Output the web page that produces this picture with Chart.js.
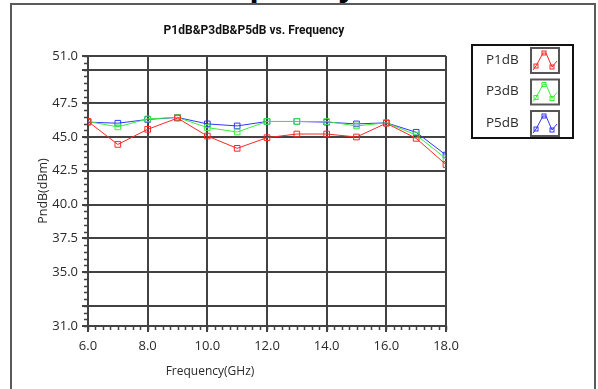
<!DOCTYPE html>
<html>
<head>
<meta charset="utf-8">
<script src="https://cdn.jsdelivr.net/npm/chart.js@4.4.0/dist/chart.umd.min.js"></script>
<style>
  html, body { margin: 0; padding: 0; background: #fff; overflow: hidden; }
  #wrap { position: relative; width: 598px; height: 389px; overflow: hidden; }
  #heading {
    position: absolute; right: 241px; top: -35px;
    font: bold 34px "Liberation Sans", Arial, sans-serif; color: #000; white-space: nowrap;
  }
  #frame {
    position: absolute; left: 10px; top: 3px; width: 582px; height: 420px;
    border: 2px solid #5a5a5a;
  }
  #chart { position: absolute; left: 0; top: 0; }
</style>
</head>
<body>
<div id="wrap">
  <div id="heading">Output Power vs. Frequency</div>
  <div id="frame"></div>
  <canvas id="chart" width="598" height="389"></canvas>
</div>
<script>
// Messpunkte (GHz) und Kompressionspunkte in dBm
const freqs = [6, 7, 8, 9, 10, 11, 12, 13, 14, 15, 16, 17, 18];
const p1dB = [46.15, 44.45, 45.57, 46.4, 45.07, 44.16, 44.95, 45.22, 45.22, 45.0, 46.02, 44.9, 42.96];
const p3dB = [46.15, 45.75, 46.34, 46.45, 45.7, 45.37, 46.15, 46.15, 46.15, 45.82, 46.05, 45.15, 43.4];
const p5dB = [46.1, 46.02, 46.3, 46.45, 45.97, 45.82, 46.15, 46.15, 46.1, 45.97, 46.05, 45.35, 43.66];
const seriesNames = ['P1dB', 'P3dB', 'P5dB'];

// Achsenteilung
const yTicks = [31, 32.5, 35, 37.5, 40, 42.5, 45, 47.5, 50, 51];
const yLabelled = [31, 35, 37.5, 40, 42.5, 45, 47.5, 51];
const xTicks = [6, 8, 10, 12, 14, 16, 18];

const uiFont = '"Open Sans", "DejaVu Sans", sans-serif';
const gridColor = '#424242';
const textColor = '#2a2a2a';

function toPoints(values) {
    return freqs.map((f, i) => ({ x: f, y: values[i] }));
}

function makeDataset(label, values, color) {
    return {
        label: label,
        data: toPoints(values),
        borderColor: color,
        backgroundColor: 'rgba(255,255,255,0)',
        borderWidth: 1,
        pointStyle: 'rect',
        pointRadius: 4,
        pointBorderWidth: 1,
        pointBorderColor: color,
        pointBackgroundColor: 'rgba(255,255,255,0)',
        tension: 0
    };
}

// kleine Zwischenstriche an beiden Achsen
const minorTicks = {
    id: 'minorTicks',
    afterDraw(chart) {
        const { ctx, scales: { x, y }, chartArea } = chart;
        ctx.save();
        ctx.strokeStyle = gridColor;
        ctx.lineWidth = 1.5;
        ctx.beginPath();
        for (let i = 0; i <= 40; i++) {
            const py = Math.round(y.getPixelForValue(31 + i * 0.5)) + 0.5;
            ctx.moveTo(chartArea.left - 4, py);
            ctx.lineTo(chartArea.left, py);
        }
        for (let i = 0; i <= 48; i++) {
            const px = Math.round(x.getPixelForValue(6 + i * 0.25)) + 0.5;
            ctx.moveTo(px, chartArea.bottom);
            ctx.lineTo(px, chartArea.bottom + 4);
        }
        ctx.stroke();
        ctx.restore();
    }
};

// Titel und x-Achsenbeschriftung
const labels = {
    id: 'labels',
    afterDraw(chart) {
        const { ctx } = chart;
        ctx.save();
        ctx.fillStyle = '#111';
        ctx.textAlign = 'center';
        ctx.textBaseline = 'middle';
        ctx.font = 'bold 12px Roboto, ' + uiFont;
        ctx.fillText('P1dB&P3dB&P5dB vs. Frequency', 254, 31);
        ctx.fillStyle = textColor;
        ctx.font = '12px ' + uiFont;
        ctx.fillText('Frequency(GHz)', 210, 372);
        ctx.restore();
    }
};

// Legende mit Linien-Symbolen
const boxLegend = {
    id: 'boxLegend',
    afterDraw(chart) {
        const { ctx } = chart;
        const bx = 472, by = 45, bw = 101, bh = 93;
        ctx.save();
        ctx.fillStyle = '#fff';
        ctx.fillRect(bx, by, bw, bh);
        ctx.strokeStyle = '#111';
        ctx.lineWidth = 2;
        ctx.strokeRect(bx, by, bw, bh);
        chart.data.datasets.forEach((ds, i) => {
            const top = 48 + i * 31.5;
            ctx.fillStyle = textColor;
            ctx.font = '13.5px ' + uiFont;
            ctx.textAlign = 'left';
            ctx.textBaseline = 'middle';
            ctx.fillText(ds.label, 486, top + 12);
            const ix = 531, iw = 28, ih = 25;
            ctx.strokeStyle = '#555';
            ctx.lineWidth = 2;
            ctx.strokeRect(ix, top, iw, ih);
            const pts = [[2, 22], [5, 18], [12, 5], [15, 5], [21, 19], [26, 13]];
            ctx.strokeStyle = ds.borderColor;
            ctx.lineWidth = 1;
            ctx.beginPath();
            pts.forEach((p, k) => {
                if (k === 0) ctx.moveTo(ix + p[0], top + p[1]);
                else ctx.lineTo(ix + p[0], top + p[1]);
            });
            ctx.stroke();
            [[5, 18], [13, 5], [21, 19]].forEach(p => {
                ctx.strokeRect(ix + p[0] - 2, top + p[1] - 2, 4, 4);
            });
        });
        ctx.restore();
    }
};

new Chart(document.getElementById('chart'), {
    type: 'line',
    data: {
        datasets: [
            makeDataset(seriesNames[0], p1dB, '#ff2626'),
            makeDataset(seriesNames[1], p3dB, '#3ced3c'),
            makeDataset(seriesNames[2], p5dB, '#3434ff')
        ]
    },
    options: {
        responsive: false,
        animation: false,
        layout: { padding: { left: 0, top: 56, right: 152, bottom: 0 } },
        plugins: {
            legend: { display: false },
            title: { display: false },
            tooltip: { enabled: false }
        },
        scales: {
            x: {
                type: 'linear',
                min: 6,
                max: 18,
                afterFit(scale) { scale.height = 63; },
                afterBuildTicks(scale) { scale.ticks = xTicks.map(v => ({ value: v })); },
                grid: { color: gridColor, lineWidth: 2, tickLength: 6, tickColor: gridColor },
                border: { color: gridColor, width: 2 },
                ticks: {
                    color: textColor,
                    padding: 6,
                    maxRotation: 0,
                    font: { family: uiFont, size: 13 },
                    callback: v => v.toFixed(1)
                }
            },
            y: {
                type: 'linear',
                min: 31,
                max: 51,
                afterFit(scale) { scale.width = 88; },
                afterBuildTicks(scale) { scale.ticks = yTicks.map(v => ({ value: v })); },
                grid: { color: gridColor, lineWidth: 2, tickLength: 6, tickColor: gridColor },
                border: { color: gridColor, width: 2 },
                title: {
                    display: true,
                    text: 'PndB(dBm)',
                    color: textColor,
                    font: { family: uiFont, size: 12.5 },
                    padding: { top: 36, bottom: 0 }
                },
                ticks: {
                    color: textColor,
                    padding: 4,
                    font: { family: uiFont, size: 13 },
                    callback: v => yLabelled.includes(v) ? v.toFixed(1) : ''
                }
            }
        }
    },
    plugins: [minorTicks, labels, boxLegend]
});
</script>
</body>
</html>
